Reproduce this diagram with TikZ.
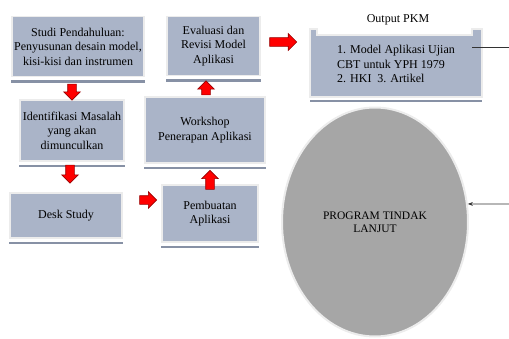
\documentclass[tikz,border=0pt]{standalone}
\usepackage{fontspec}
\setmainfont{Liberation Serif}
\usetikzlibrary{shapes.geometric, shapes.arrows, arrows.meta}
\definecolor{boxcolor}{RGB}{170,180,200}
\definecolor{shadowcolor}{RGB}{135,145,165}
\definecolor{edgecolor}{RGB}{236,236,236}
\definecolor{ovalcolor}{RGB}{166,166,166}
\definecolor{arrowred}{RGB}{255,0,0}
\definecolor{arrowedge}{RGB}{150,0,0}

\begin{document}
\begin{tikzpicture}[x=1pt, y=-1pt, >=Stealth,
  stepbox/.style={draw=edgecolor, line width=1.5pt, fill=boxcolor, inner sep=0pt, align=center, font=\fontsize{12}{14.5}\selectfont},
  boxshadow/.style={draw=shadowcolor, line width=2.5pt},
  redarrow/.style={single arrow, draw=arrowedge, fill=arrowred, line width=0.6pt, inner sep=4pt, minimum width=16pt, single arrow head extend=4pt, single arrow head indent=0pt}]

\useasboundingbox (0,0) rectangle (509,338);

% Process boxes
\node[stepbox, minimum width=132pt, minimum height=60pt] (studi) at (78,46.5) {Studi Pendahuluan:\\Penyusunan desain model,\\kisi-kisi dan instrumen};
\node[stepbox, minimum width=93pt, minimum height=59pt] (evaluasi) at (213.5,46) {Evaluasi dan\\Revisi Model\\Aplikasi};
\node[stepbox, minimum width=104pt, minimum height=61pt] (identifikasi) at (72,130.5) {Identifikasi Masalah\\yang akan\\dimunculkan};
\node[stepbox, minimum width=120pt, minimum height=66pt] (workshop) at (205,130) {Workshop\\Penerapan Aplikasi};
\node[stepbox, minimum width=112pt, minimum height=45pt] (desk) at (66,215.5) {Desk Study};
\node[stepbox, minimum width=96pt, minimum height=57pt] (pembuatan) at (210,213.5) {Pembuatan\\Aplikasi};

% Shadow bars under the boxes
\foreach \b in {studi,evaluasi,identifikasi,workshop,desk,pembuatan}
  \draw[boxshadow] ([yshift=-4pt]\b.south west) -- ([yshift=-4pt]\b.south east);

% Red block arrows
\node[redarrow, minimum height=16pt, rotate=-90] (down1) at (72,90) {};
\node[redarrow, minimum height=18pt, rotate=-90] (down2) at (70,172) {};
\node[redarrow, minimum height=17pt] (right1) at (146,200) {};
\node[redarrow, minimum height=19pt, rotate=90] (up1) at (210,182) {};
\node[redarrow, minimum height=14pt, rotate=90] (up2) at (206,90) {};
\node[redarrow, minimum height=27pt, minimum width=17pt] (right2) at (281,42) {};

% Output PKM box
\node[font=\fontsize{12}{14.5}\selectfont] (outtitle) at (398,20) {Output PKM};
\draw[draw=edgecolor, line width=1.5pt, fill=boxcolor] (310,29) -- (317,29) -- (317,35) -- (472,35) -- (472,29) -- (482,29) -- (482,97) -- (310,97) -- cycle;
\draw[boxshadow] (310,101) -- (482,101);
\node[align=left, inner sep=0pt, font=\fontsize{12}{14.5}\selectfont] (output) at (396,64) {1. Model Aplikasi Ujian\\CBT untuk YPH 1979\\2. HKI\ \ 3. Artikel};

% Follow-up program
\node[ellipse, draw=edgecolor, line width=2pt, fill=ovalcolor, minimum width=186pt, minimum height=229pt, align=center, font=\fontsize{11.5}{13.5}\selectfont] (lanjut) at (375,222) {PROGRAM TINDAK\\LANJUT};

% Side lines
\coordinate (outtip) at (472,47);
\coordinate (outedge) at (509,47);
\coordinate (ovalend) at (509,204);
\draw[line width=0.6pt, black!80] (outtip) -- (outedge);
\draw[line width=0.6pt, black!80, -{Stealth[length=5pt]}] (ovalend) -- (lanjut.11);

\end{tikzpicture}
\end{document}
